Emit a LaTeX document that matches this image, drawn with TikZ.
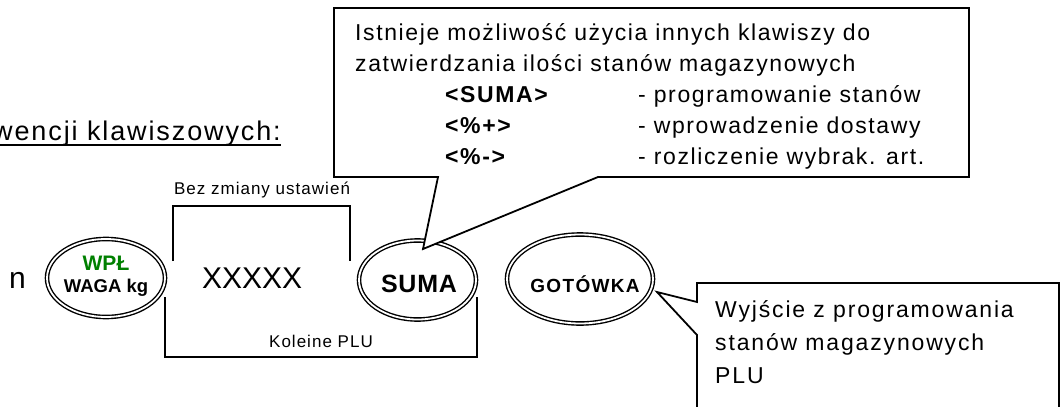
\documentclass[tikz,border=0pt]{standalone}
\usepackage{fontspec}
\setmainfont{Liberation Sans}
\newfontfamily\lsA{Liberation Sans}[LetterSpace=7]
\newfontfamily\lsR{Liberation Sans}[LetterSpace=8]
\newfontfamily\lsB{Liberation Sans}[LetterSpace=6]
\newfontfamily\lsC{Liberation Sans}[LetterSpace=3]
\usetikzlibrary{shapes.geometric}
\definecolor{wplgreen}{RGB}{0,128,0}
\begin{document}
\begin{tikzpicture}[x=1pt,y=-1pt,
  txt/.style={inner sep=0pt, anchor=base west},
  ctxt/.style={inner sep=0pt, anchor=base},
  keyoval/.style={draw, double, ellipse, line width=1.4pt, double distance=1.8pt, inner sep=0pt},
  callout/.style={draw, line width=1.8pt, fill=white, line join=miter},
  brk/.style={draw, line width=1.8pt},
  cfont/.style={font=\lsA\fontsize{23}{27}\selectfont},
  cbfont/.style={font=\lsA\bfseries\fontsize{23}{27}\selectfont},
  rfont/.style={font=\lsR\fontsize{23}{27}\selectfont},
  small/.style={font=\lsB\fontsize{17}{20}\selectfont}]
\useasboundingbox (0,0) rectangle (1061,407);
\clip (0,0) rectangle (1061,407);

% heading
\node[txt, anchor=base east, font=\lsA\fontsize{27}{31}\selectfont] (head) at (281,140) {wencji klawiszowych:};
\draw[line width=1.8pt] ([yshift=-5pt]head.base west) -- ([yshift=-5pt]head.base east);

% row of keys
\node[txt, font=\fontsize{30}{36}\selectfont] (n) at (9,288) {n};
\node[keyoval, minimum width=118pt, minimum height=78pt] (wpl) at (106,278) {};
\node[ctxt, font=\bfseries\fontsize{21}{24}\selectfont, text=wplgreen] (wpltxt) at (106,270) {WPŁ};
\node[ctxt, font=\bfseries\fontsize{18.5}{22}\selectfont] (wagatxt) at (106,292) {WAGA kg};

\node[txt, font=\fontsize{30}{36}\selectfont] (xx) at (202,288) {XXXXX};

\node[keyoval, minimum width=117pt, minimum height=79pt] (suma) at (417.5,280) {};
\node[ctxt, font=\lsC\bfseries\fontsize{25}{30}\selectfont] (sumatxt) at (419,292) {SUMA};

\node[keyoval, minimum width=146pt, minimum height=89pt] (got) at (580,279) {};
\node[ctxt, font=\lsA\bfseries\fontsize{19}{22}\selectfont] (gottxt) at (585,292) {GOTÓWKA};

% brackets
\coordinate (b1l) at (173,261);
\coordinate (b1tl) at (173,206);
\coordinate (b1tr) at (350,206);
\coordinate (b1r) at (350,261);
\draw[brk] (b1l) -- (b1tl) -- (b1tr) -- (b1r);
\node[ctxt, small] (beztxt) at (262,194) {Bez zmiany ustawień};

\coordinate (b2l) at (165,297);
\coordinate (b2bl) at (165,357);
\coordinate (b2br) at (477,357);
\coordinate (b2r) at (477,297);
\draw[brk] (b2l) -- (b2bl) -- (b2br) -- (b2r);
\node[ctxt, small] (koltxt) at (321,347) {Koleine PLU};

% callout 1
\coordinate (tip1) at (423,249);
\draw[callout] (334,8) -- (969,8) -- (969,177) -- (598,177) -- (tip1) -- (438,177) -- (334,177) -- cycle;
\node[txt, cfont] (c1a) at (355,40) {Istnieje możliwość użycia innych klawiszy do};
\node[txt, cfont] (c1b) at (355,71) {zatwierdzania ilości stanów magazynowych};
\node[txt, cbfont] (k1) at (445,102) {<SUMA>};
\node[txt, cfont] (d1) at (638,102) {- programowanie stanów};
\node[txt, cbfont] (k2) at (445,133) {<\%+>};
\node[txt, cfont] (d2) at (638,133) {- wprowadzenie dostawy};
\node[txt, cbfont] (k3) at (445,164) {<\%->};
\node[txt, cfont] (d3) at (638,164) {- rozliczenie wybrak. art.};

% callout 2
\coordinate (tip2) at (657,292);
\draw[callout] (697,283) -- (1059,283) -- (1059,430) -- (697,430) -- (697,335) -- (tip2) -- (697,302) -- cycle;
\node[txt, rfont] (c2a) at (715,317) {Wyjście z programowania};
\node[txt, rfont] (c2b) at (715,350) {stanów magazynowych};
\node[txt, rfont] (c2c) at (715,383) {PLU};
\end{tikzpicture}
\end{document}
